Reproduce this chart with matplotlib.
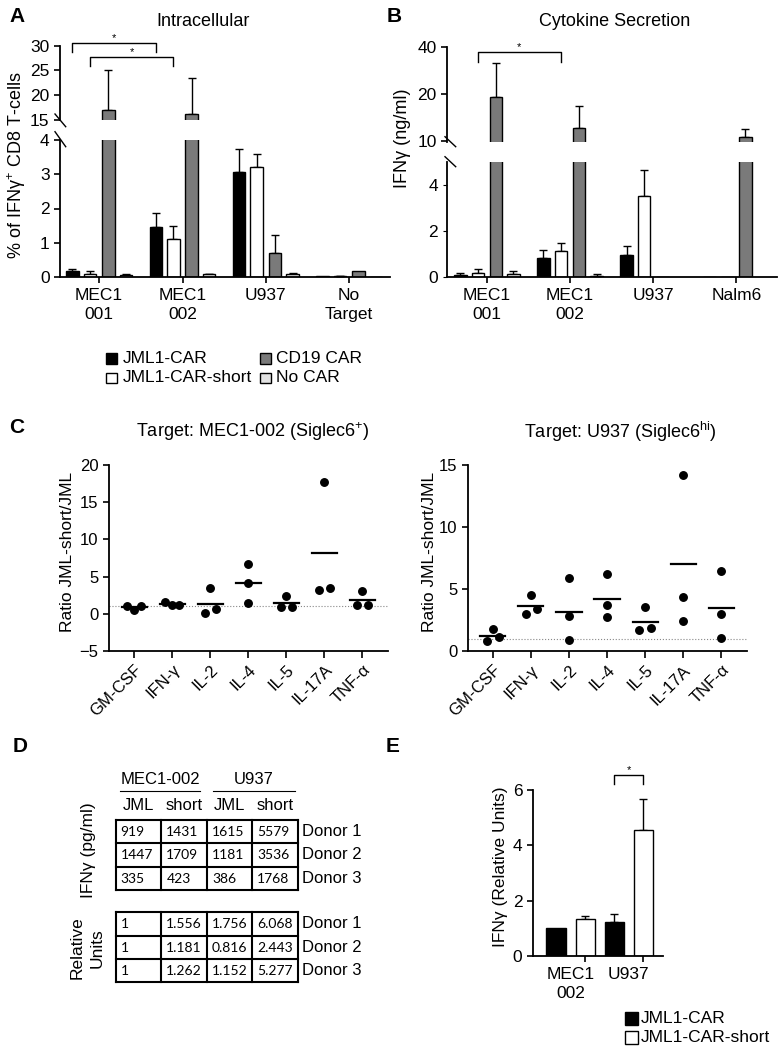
import numpy as np
import matplotlib.pyplot as plt
from matplotlib.lines import Line2D
from matplotlib.patches import Rectangle
from matplotlib.transforms import blended_transform_factory

plt.rcParams['font.family'] = ['Liberation Sans', 'DejaVu Sans']
plt.rcParams['mathtext.fontset'] = 'custom'
plt.rcParams['mathtext.rm'] = 'Liberation Sans'
plt.rcParams['mathtext.default'] = 'regular'
plt.rcParams['axes.linewidth'] = 1.3

# ---------------- data ----------------
car_names = ['JML1-CAR', 'JML1-CAR-short', 'CD19 CAR', 'No CAR']
car_colors = ['black', 'white', '#7a7a7a', '#e2e2e2']

# A: intracellular IFNg (% of CD8 T-cells)
a_targets = ['MEC1\n001', 'MEC1\n002', 'U937', 'No\nTarget']
a_jml = [0.18, 1.45, 3.08, 0.02]
a_jml_err = [0.05, 0.41, 0.66, 0.0]
a_short = [0.10, 1.10, 3.22, 0.03]
a_short_err = [0.07, 0.39, 0.37, 0.01]
a_cd19 = [17.0, 16.3, 0.71, 0.18]
a_cd19_err = [8.0, 7.1, 0.53, 0.0]
a_nocar = [0.06, 0.08, 0.09, 0.01]
a_nocar_err = [0.02, 0.02, 0.04, 0.0]

# B: secreted IFNg (ng/ml)
b_targets = ['MEC1\n001', 'MEC1\n002', 'U937', 'Nalm6']
b_jml = [0.07, 0.83, 0.97, 0.01]
b_jml_err = [0.12, 0.36, 0.36, 0.0]
b_short = [0.18, 1.12, 3.54, 0.02]
b_short_err = [0.15, 0.38, 1.10, 0.0]
b_cd19 = [19.1, 12.1, 0.01, 10.6]
b_cd19_err = [12.6, 4.7, 0.0, 1.2]
b_nocar = [0.15, 0.06, np.nan, np.nan]
b_nocar_err = [0.12, 0.09, np.nan, np.nan]

# C: ratio JML-short / JML per donor
cytokines = ['GM-CSF', 'IFN-γ', 'IL-2', 'IL-4', 'IL-5', 'IL-17A', 'TNF-α']
c_mec = [[1.10, 0.45, 1.07], [1.57, 1.16, 1.20], [0.09, 3.45, 0.58], [6.76, 4.16, 1.43],
         [0.85, 2.42, 0.98], [3.18, 17.67, 3.49], [1.12, 3.00, 1.25]]
c_mec_dx = [[-0.19, 0, 0.19], [-0.18, 0, 0.18], [-0.15, 0, 0.15], [0, 0, 0],
            [-0.15, 0, 0.15], [-0.15, 0, 0.15], [-0.15, 0, 0.15]]
c_u937 = [[0.83, 1.80, 1.13], [2.98, 4.56, 3.43], [5.88, 2.84, 0.89], [6.20, 3.70, 2.74],
          [1.69, 3.54, 1.90], [14.22, 4.40, 2.47], [6.47, 3.00, 1.05]]
c_u937_dx = [[-0.14, 0, 0.15], [-0.14, 0, 0.16], [0, 0, 0], [0, 0, 0],
             [-0.15, 0, 0.15], [0, 0, 0], [0, 0, 0]]

# D: table
d_groups = ['MEC1-002', 'U937']
d_cols = ['JML', 'short', 'JML', 'short']
d_donors = ['Donor 1', 'Donor 2', 'Donor 3']
d_ifn = [[919, 1431, 1615, 5579], [1447, 1709, 1181, 3536], [335, 423, 386, 1768]]
d_rel = [[1, 1.556, 1.756, 6.068], [1, 1.181, 0.816, 2.443], [1, 1.262, 1.152, 5.277]]

# E: relative units
e_targets = ['MEC1\n002', 'U937']
e_jml = [1.0, 1.23]
e_jml_err = [0.0, 0.29]
e_short = [1.33, 4.55]
e_short_err = [0.12, 1.12]

# ---------------- helpers ----------------
W, H = 781, 1050
fig = plt.figure(figsize=(W / 100, H / 100), dpi=100)


def add_ax(l, t, r, b):
    return fig.add_axes([l / W, 1 - b / H, (r - l) / W, (b - t) / H])


def ftext(x, y, s, **kw):
    return fig.text(x / W, 1 - y / H, s, **kw)


def fline(xs, ys, lw=1.0, color='black', **kw):
    fig.add_artist(Line2D(np.array(xs) / W, 1 - np.array(ys) / H,
                          transform=fig.transFigure, color=color, lw=lw, **kw))


def style(ax, size=12.5):
    for s in ['top', 'right']:
        ax.spines[s].set_visible(False)
    ax.tick_params(direction='out', length=4, width=1.2, labelsize=size)


def bars(ax, series, errs, offsets, width, bottom=0):
    for vals, err, off, col in zip(series, errs, offsets, car_colors):
        x = np.arange(len(vals)) + off
        v = np.array(vals, float)
        e = np.array(err, float)
        ax.bar(x, v - bottom, width, bottom=bottom, color=col, edgecolor='black', lw=1.0, zorder=2)
        ok = ~np.isnan(v) & (np.nan_to_num(e) > 0)
        ax.errorbar(x[ok], v[ok], yerr=[np.zeros(ok.sum()), e[ok]], fmt='none',
                    ecolor='black', elinewidth=1.0, capsize=3, capthick=1.0, zorder=1)


def bracket(ax, x0, x1, ytop, ybot, ystar):
    tr = blended_transform_factory(ax.transData, fig.transFigure)
    ax.plot([x0, x0, x1, x1], [1 - ybot / H, 1 - ytop / H, 1 - ytop / H, 1 - ybot / H],
            transform=tr, color='black', lw=1.0, clip_on=False)
    ax.text((x0 + x1) / 2, 1 - ystar / H, '*', transform=tr, ha='center', va='center', fontsize=8)


offs4 = [-0.32, -0.11, 0.11, 0.32]
bw4 = 0.15

# ---------------- panel A ----------------
a_series = [a_jml, a_short, a_cd19, a_nocar]
a_errs = [a_jml_err, a_short_err, a_cd19_err, a_nocar_err]
axA = add_ax(60, 140, 390, 277)
axA2 = add_ax(60, 45.6, 390, 120)
for ax in (axA, axA2):
    ax.set_xlim(-0.47, 3.49)
    style(ax)
bars(axA, a_series, a_errs, offs4, bw4)
bars(axA2, a_series, a_errs, offs4, bw4, bottom=1)
axA.set_ylim(0, 4)
axA.set_yticks([0, 1, 2, 3, 4])
axA.set_xticks(range(4))
axA.set_xticklabels(a_targets, linespacing=1.3)
axA.tick_params(axis='x', pad=4)
axA2.set_ylim(15, 30)
axA2.set_yticks([15, 20, 25, 30])
axA2.spines['bottom'].set_visible(False)
axA2.set_xticks([])
fline([55, 65.7], [114, 126.7])
fline([55, 65.7], [131.7, 146.7])
bracket(axA2, 0 + offs4[0], 1 + offs4[0], 43, 52, 38)
bracket(axA2, 0 + offs4[1], 1 + offs4[1], 57, 66, 52)
ftext(203, 22, 'Intracellular', ha='center', va='center', fontsize=13)
ftext(17, 165, '% of IFNγ$^{+}$ CD8 T-cells', rotation=90, ha='center', va='center', fontsize=13)
ftext(17, 16, 'A', ha='center', va='center', fontsize=15, fontweight='bold')

# legend A
leg_pos = [(111.5, 358.5), (111.5, 378), (265.5, 358.5), (265.5, 378)]
for i, (cx, cy) in enumerate(leg_pos):
    fig.add_artist(Rectangle(((cx - 5.3) / W, 1 - (cy + 5.3) / H), 10.6 / W, 10.6 / H,
                             transform=fig.transFigure, facecolor=car_colors[i],
                             edgecolor='black', lw=1.0))
    ftext(cx + 11, cy, car_names[i], ha='left', va='center', fontsize=12.5)

# ---------------- panel B ----------------
b_series = [b_jml, b_short, b_cd19, b_nocar]
b_errs = [b_jml_err, b_short_err, b_cd19_err, b_nocar_err]
axB = add_ax(447, 162, 777, 277)
axB2 = add_ax(447, 47, 777, 142)
for ax in (axB, axB2):
    ax.set_xlim(-0.48, 3.49)
    style(ax)
bars(axB, b_series, b_errs, offs4, bw4)
axB2.set_yscale('log')
bars(axB2, b_series, b_errs, offs4, bw4, bottom=1)
axB.set_ylim(0, 5)
axB.set_yticks([0, 2, 4])
axB.tick_params(axis='y', length=3, width=0.8)
axB.set_xticks(range(4))
axB.set_xticklabels(b_targets, linespacing=1.3)
axB.tick_params(axis='x', pad=4)
axB2.set_ylim(9.8, 40)
axB2.set_yticks([10, 20, 40])
axB2.set_yticklabels(['10', '20', '40'])
axB2.minorticks_off()
axB2.spines['bottom'].set_visible(False)
axB2.set_xticks([])
fline([445, 455.7], [136.7, 146.7])
fline([445, 455.7], [156.7, 166.7])
bracket(axB2, 0 + offs4[1], 1 + offs4[1], 51.7, 61.7, 46.7)
ftext(615, 22, 'Cytokine Secretion', ha='center', va='center', fontsize=13)
ftext(402, 138, 'IFNγ (ng/ml)', rotation=90, ha='center', va='center', fontsize=13)
ftext(394, 16, 'B', ha='center', va='center', fontsize=15, fontweight='bold')

# ---------------- panel C ----------------
def scatter_panel(ax, vals, dxs):
    for i, (v, dx) in enumerate(zip(vals, dxs)):
        ax.plot(i + np.array(dx), v, 'o', color='black', ms=5.4, zorder=3, clip_on=False)
        m = np.mean(v)
        ax.plot([i - 0.33, i + 0.33], [m, m], color='black', lw=1.6, zorder=2)
    ax.axhline(1, color='#888888', ls=':', lw=0.8, zorder=1)
    ax.set_xlim(-0.66, 6.67)
    ax.set_xticks(range(len(cytokines)))
    ax.set_xticklabels(cytokines, rotation=45, ha='right', rotation_mode='anchor')
    style(ax, 12)
    ax.tick_params(axis='x', length=5, pad=3)


axC1 = add_ax(109, 465, 388, 651)
scatter_panel(axC1, c_mec, c_mec_dx)
axC1.set_ylim(-5, 20)
axC1.set_yticks([-5, 0, 5, 10, 15, 20])
axC2 = add_ax(467.7, 465, 746.7, 651.3)
scatter_panel(axC2, c_u937, c_u937_dx)
axC2.set_ylim(0, 15)
axC2.set_yticks([0, 5, 10, 15])
ftext(253, 432, 'Target: MEC1-002 (Siglec6$^{+}$)', ha='center', va='center', fontsize=13)
ftext(620, 432, 'Target: U937 (Siglec6$^{hi}$)', ha='center', va='center', fontsize=13)
ftext(67, 552, 'Ratio JML-short/JML', rotation=90, ha='center', va='center', fontsize=12.5)
ftext(429, 552, 'Ratio JML-short/JML', rotation=90, ha='center', va='center', fontsize=12.5)
ftext(17, 428, 'C', ha='center', va='center', fontsize=15, fontweight='bold')

# ---------------- panel D ----------------
col_x = [115.7, 161.3, 207, 252.3, 298]
row_h = 23.3


def table(top, cells):
    for r, row in enumerate(cells):
        cy = top + row_h * (r + 0.5)
        for c, v in enumerate(row):
            s = str(v) if isinstance(v, int) else f'{v:.3f}'
            ftext(col_x[c] + 5, cy + 0.5, s, ha='left', va='center', fontsize=10, family='Lato')
        ftext(col_x[-1] + 4, cy, d_donors[r], ha='left', va='center', fontsize=12)
    bottom = top + row_h * len(cells)
    for x in col_x:
        fline([x, x], [top, bottom], lw=1.5)
    for r in range(len(cells) + 1):
        y = top + row_h * r
        fline([col_x[0], col_x[-1]], [y, y], lw=1.5)


table(820, d_ifn)
table(912.3, d_rel)
for g, (x0, x1) in zip(d_groups, [(120, 200), (213, 295)]):
    ftext((x0 + x1) / 2, 780, g, ha='center', va='center', fontsize=12)
    fline([x0, x1], [791, 791], lw=0.8)
for c, name in enumerate(d_cols):
    ftext((col_x[c] + col_x[c + 1]) / 2, 805, name, ha='center', va='center', fontsize=12)
ftext(88, 850, 'IFNγ (pg/ml)', rotation=90, ha='center', va='center', fontsize=12.5)
ftext(76.7, 948, 'Relative', rotation=90, ha='center', va='center', fontsize=12.5)
ftext(96.7, 948, 'Units', rotation=90, ha='center', va='center', fontsize=12.5)
ftext(20, 746, 'D', ha='center', va='center', fontsize=15, fontweight='bold')

# ---------------- panel E ----------------
axE = add_ax(532.7, 790, 663.3, 956)
style(axE, 12.5)
for vals, err, off, col in zip([e_jml, e_short], [e_jml_err, e_short_err], [-0.25, 0.25], car_colors[:2]):
    x = np.arange(len(vals)) + off
    axE.bar(x, vals, 0.33, color=col, edgecolor='black', lw=1.0, zorder=2)
    e = np.array(err)
    ok = e > 0
    axE.errorbar(x[ok], np.array(vals)[ok], yerr=[np.zeros(ok.sum()), e[ok]], fmt='none',
                 ecolor='black', elinewidth=1.0, capsize=3, capthick=1.0, zorder=1)
axE.set_xlim(-0.65, 1.59)
axE.set_ylim(0, 6)
axE.set_yticks([0, 2, 4, 6])
axE.set_xticks([0, 1])
axE.set_xticklabels(e_targets, linespacing=1.3)
axE.set_xticks([0.25, 1.25], minor=True)
axE.tick_params(axis='x', which='major', length=0, pad=8)
axE.tick_params(axis='x', which='minor', length=4, width=1.2)
bracket(axE, 1 - 0.25, 1 + 0.25, 775, 784, 770)
ftext(500, 867, 'IFNγ (Relative Units)', rotation=90, ha='center', va='center', fontsize=12.5)
ftext(393, 746, 'E', ha='center', va='center', fontsize=15, fontweight='bold')
for i, cy in enumerate([1018.3, 1037.3]):
    fig.add_artist(Rectangle((624.5 / W, 1 - (cy + 6.5) / H), 13 / W, 13 / H,
                             transform=fig.transFigure, facecolor=car_colors[i],
                             edgecolor='black', lw=1.0))
    ftext(640.5, cy, car_names[i], ha='left', va='center', fontsize=12.5)

fig.savefig('out.png', dpi=100)
